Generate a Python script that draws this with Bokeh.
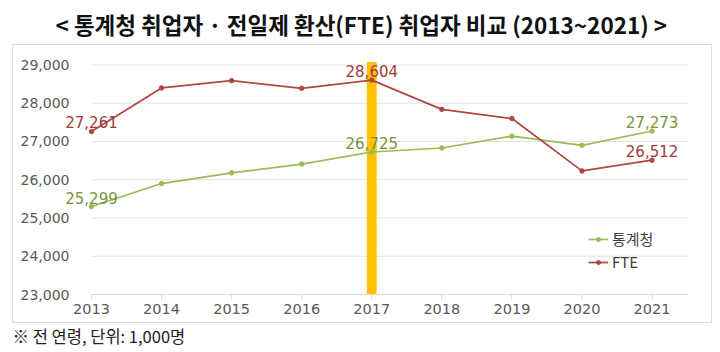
from bokeh.plotting import figure
from bokeh.models import (ColumnDataSource, Range1d, FixedTicker, NumeralTickFormatter,
                          Legend, LegendItem, Title, InlineStyleSheet)
from bokeh.core.properties import value
from bokeh.embed import file_html
from bokeh.resources import INLINE

# ---- data ----
years = [2013, 2014, 2015, 2016, 2017, 2018, 2019, 2020, 2021]
stat_kr = [25299, 25900, 26180, 26410, 26725, 26830, 27140, 26900, 27273]   # 통계청
fte = [27261, 28400, 28590, 28390, 28604, 27840, 27600, 26230, 26512]       # FTE
y_ticks = [23000, 24000, 25000, 26000, 27000, 28000, 29000]
label_idx = [0, 4, 8]
highlight_year = [2017]
highlight_top = [29080]

title_text = "< 통계청 취업자 · 전일제 환산(FTE) 취업자 비교 (2013~2021) >"
note_text = "※  전 연령, 단위: 1,000명"

GREEN = "#9BBB59"
RED = "#B0483F"
GREEN_T = "#77933C"
RED_T = "#9E3B37"

X0, X1 = 2012.558, 2021.52      # visible x range
GRID_X0 = 2013                  # grid / axis start

box_css = InlineStyleSheet(css="""
:host { position: relative; }
:host::after { content: ""; position: absolute; left: 12px; top: 44px; width: 698px; height: 277px;
  border: 1px solid #dedede; pointer-events: none; }
""")

p = figure(width=720, height=352, output_backend="svg", toolbar_location=None,
           x_range=Range1d(X0, X1), y_range=Range1d(23000, 29300),
           min_border_left=60, min_border_right=32, min_border_top=53, min_border_bottom=55,
           stylesheets=[box_css])
p.outline_line_color = None
p.background_fill_color = "white"
p.border_fill_color = "white"

# title
p.title.text = title_text
p.title.align = "left"
p.title.offset = -5
p.title.padding = (0, 0, 0, 9)
p.title.text_font = "Noto Sans CJK KR"
p.title.text_font_size = "22.5px"
p.title.text_font_style = "bold"
p.title.text_color = "#111111"

p.add_layout(Title(text=note_text, align="left", offset=-48, text_font="Noto Sans CJK KR",
                   text_font_size="16.5px", text_font_style="normal", text_color="#222222"), "below")

# axes
p.xaxis.ticker = FixedTicker(ticks=years)
p.xaxis.bounds = (GRID_X0, X1)
p.xaxis.axis_line_color = "#d9d9d9"
p.xaxis.major_tick_line_color = "#d9d9d9"
p.xaxis.major_tick_in = 0
p.xaxis.major_tick_out = 5
p.xaxis.minor_tick_line_color = None
p.xaxis.major_label_text_font = "DejaVu Sans"
p.xaxis.major_label_text_font_size = "14.5px"
p.xaxis.major_label_text_color = "#595959"
p.xaxis.major_label_standoff = 4

p.yaxis.ticker = FixedTicker(ticks=y_ticks)
p.yaxis.formatter = NumeralTickFormatter(format="0,0")
p.yaxis.axis_line_color = None
p.yaxis.major_tick_line_color = None
p.yaxis.minor_tick_line_color = None
p.yaxis.major_label_text_font = "DejaVu Sans"
p.yaxis.major_label_text_font_size = "14px"
p.yaxis.major_label_text_color = "#595959"
p.yaxis.major_label_standoff = -15

p.xgrid.grid_line_color = None
p.ygrid.grid_line_color = None
# horizontal gridlines starting at the first category
p.segment(x0=[GRID_X0] * len(y_ticks), x1=[X1] * len(y_ticks), y0=y_ticks, y1=y_ticks,
          line_color="#e3e3e3", line_width=1)

# highlight bar
p.vbar(x=highlight_year, top=highlight_top, bottom=23000, width=0.14,
       fill_color="#FFC000", line_color=None)

src = ColumnDataSource(dict(x=years, a=stat_kr, b=fte))
l1 = p.line("x", "a", source=src, line_color=GREEN, line_width=1.7)
m1 = p.scatter("x", "a", source=src, size=4.5, fill_color=GREEN, line_color=GREEN)
l2 = p.line("x", "b", source=src, line_color=RED, line_width=1.7)
m2 = p.scatter("x", "b", source=src, size=4.5, fill_color=RED, line_color=RED)

lab_a = ColumnDataSource(dict(x=[years[i] for i in label_idx], y=[stat_kr[i] for i in label_idx],
                              t=[f"{stat_kr[i]:,}" for i in label_idx]))
lab_b = ColumnDataSource(dict(x=[years[i] for i in label_idx], y=[fte[i] for i in label_idx],
                              t=[f"{fte[i]:,}" for i in label_idx]))
for s, c in ((lab_a, GREEN_T), (lab_b, RED_T)):
    p.text("x", "y", text="t", source=s, text_align="center", text_baseline="alphabetic",
           y_offset=-9, text_font=value("DejaVu Sans"), text_font_size="15px", text_color=c)

legend = Legend(items=[LegendItem(label="통계청", renderers=[l1, m1]),
                       LegendItem(label="FTE", renderers=[l2, m2])],
                location=(528, 22), orientation="vertical",
                background_fill_alpha=0, border_line_color=None,
                label_text_font="Noto Sans CJK KR", label_text_font_size="15px",
                label_text_color="#404040", glyph_width=20, glyph_height=10,
                label_height=20, spacing=2, padding=0, margin=0, label_standoff=4)
p.add_layout(legend)

open("out.html", "w").write(file_html(p, INLINE))
